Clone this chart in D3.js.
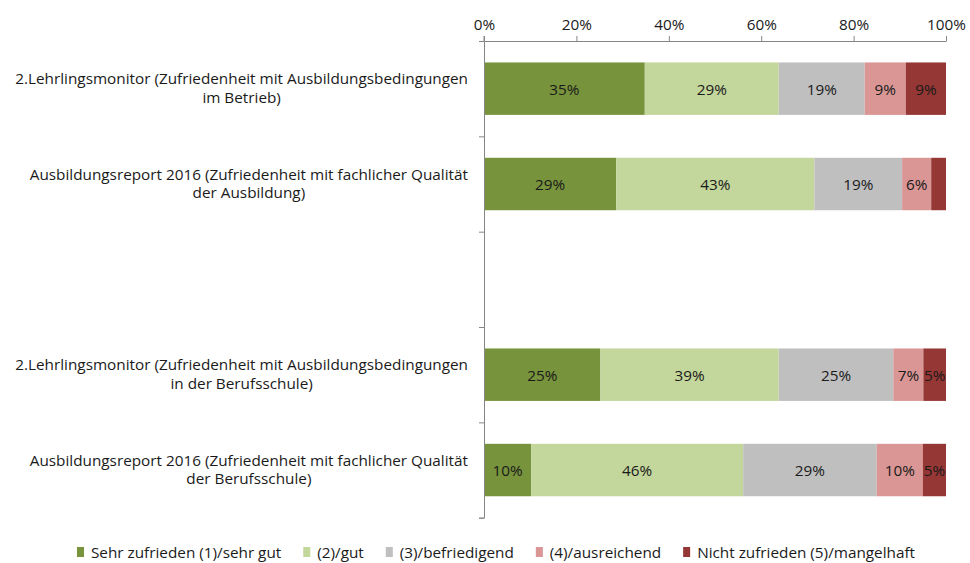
<!DOCTYPE html>
<html>
<head>
<meta charset="utf-8">
<script src="https://cdnjs.cloudflare.com/ajax/libs/d3/7.8.5/d3.min.js"></script>
<style>
  html, body { margin: 0; padding: 0; background: #fff; }
  svg { display: block; }
  text { font-family: "Open Sans", Lato, sans-serif; fill: #1a1a1a; }
</style>
</head>
<body>
<svg id="chart" width="970" height="563"></svg>
<script>
// Survey rows (the empty row separates the two groups)
const categories = [
  "2.Lehrlingsmonitor (Zufriedenheit mit Ausbildungsbedingungen\nim Betrieb)",
  "Ausbildungsreport 2016 (Zufriedenheit mit fachlicher Qualität\nder Ausbildung)",
  "",
  "2.Lehrlingsmonitor (Zufriedenheit mit Ausbildungsbedingungen\nin der Berufsschule)",
  "Ausbildungsreport 2016 (Zufriedenheit mit fachlicher Qualität\nder Berufsschule)"
];

const seriesNames = [
  "Sehr zufrieden (1)/sehr gut",
  "(2)/gut",
  "(3)/befriedigend",
  "(4)/ausreichend",
  "Nicht zufrieden (5)/mangelhaft"
];

// Shares in percent, one array per rating
const sehrGut      = [34.8, 28.6, null, 25.2, 10.2];
const gut          = [29.0, 42.9, null, 38.6, 45.9];
const befriedigend = [18.6, 19.0, null, 24.8, 28.9];
const ausreichend  = [ 8.9,  6.3, null,  6.5, 10.0];
const mangelhaft   = [ 8.7,  3.2, null,  4.9,  5.0];

const tickValues = [0, 20, 40, 60, 80, 100];

const seriesColors = ["#77933C", "#C3D69B", "#BFBFBF", "#D99694", "#953735"];
const axisColor = "#868686";
const fontSize = 15.3;

const svg = d3.select("#chart");

const x = d3.scaleLinear().domain([0, 100]).range([484, 946]);
const y = d3.scaleBand()
  .domain(d3.range(categories.length))
  .range([41, 517.7])
  .paddingInner(0.45)
  .paddingOuter(0.225);

// Build stacked rows
const rows = categories.map((c, i) => {
  const o = { idx: i };
  seriesNames.forEach((s, k) => {
    o[s] = [sehrGut, gut, befriedigend, ausreichend, mangelhaft][k][i] || 0;
  });
  return o;
});
const stacked = d3.stack().keys(seriesNames)(rows);

// Bars
const layers = svg.append("g").selectAll("g")
  .data(stacked)
  .join("g")
  .attr("fill", (d, k) => seriesColors[k]);

layers.selectAll("rect")
  .data(d => d.filter(p => p[1] - p[0] > 0))
  .join("rect")
  .attr("x", p => x(p[0]))
  .attr("y", p => y(p.data.idx))
  .attr("width", p => x(p[1]) - x(p[0]))
  .attr("height", y.bandwidth());

// Value labels inside segments
layers.selectAll("text")
  .data(d => d.filter(p => p[1] - p[0] >= 4))
  .join("text")
  .attr("x", p => (x(p[0]) + x(p[1])) / 2)
  .attr("y", p => y(p.data.idx) + y.bandwidth() / 2 + 6)
  .attr("text-anchor", "middle")
  .attr("font-size", fontSize)
  .text(p => Math.round(p[1] - p[0]) + "%");

// Top percentage axis
const xAxis = svg.append("g")
  .attr("transform", "translate(0,41)")
  .call(d3.axisTop(x).tickValues(tickValues).tickSize(5).tickSizeOuter(0).tickFormat(d => d + "%"));
xAxis.select(".domain").attr("stroke", axisColor);
xAxis.selectAll(".tick line").attr("stroke", axisColor);
xAxis.selectAll(".tick text")
  .attr("font-size", fontSize)
  .attr("font-family", "'Open Sans', Lato, sans-serif")
  .attr("fill", "#1a1a1a")
  .attr("dy", "-0.2em");

// Left category axis with ticks at band boundaries
const yEdges = d3.scaleLinear().domain([0, categories.length]).range([41, 517.7]);
const yAxis = svg.append("g")
  .attr("transform", "translate(484,0)")
  .call(d3.axisLeft(yEdges).tickValues(d3.range(categories.length + 1)).tickSize(5).tickFormat(""));
yAxis.select(".domain").attr("stroke", axisColor);
yAxis.selectAll(".tick line").attr("stroke", axisColor);
svg.append("line")
  .attr("x1", 484).attr("x2", 484).attr("y1", 36).attr("y2", 41)
  .attr("stroke", axisColor);

// Category labels: centered multi-line blocks, right edge near the axis
const labelRight = 468;
categories.forEach((c, i) => {
  if (!c) return;
  const lines = c.split("\n");
  const g = svg.append("g");
  const texts = lines.map((ln, j) => g.append("text")
    .attr("font-size", fontSize)
    .attr("text-anchor", "middle")
    .attr("y", y(i) + y.bandwidth() / 2 - 4.5 + j * 18.5)
    .text(ln));
  const w = d3.max(texts, t => t.node().getComputedTextLength());
  texts.forEach(t => t.attr("x", labelRight - w / 2));
});

// Legend
const legend = svg.append("g");
let lx = 0;
seriesNames.forEach((s, k) => {
  legend.append("rect")
    .attr("x", lx).attr("y", 547).attr("width", 7).attr("height", 10)
    .attr("fill", seriesColors[k]);
  const t = legend.append("text")
    .attr("x", lx + 14).attr("y", 558)
    .attr("font-size", fontSize)
    .text(s);
  lx += 14 + t.node().getComputedTextLength() + 22;
});
lx -= 22;
legend.attr("transform", `translate(${496 - lx / 2},0)`);
</script>
</body>
</html>
